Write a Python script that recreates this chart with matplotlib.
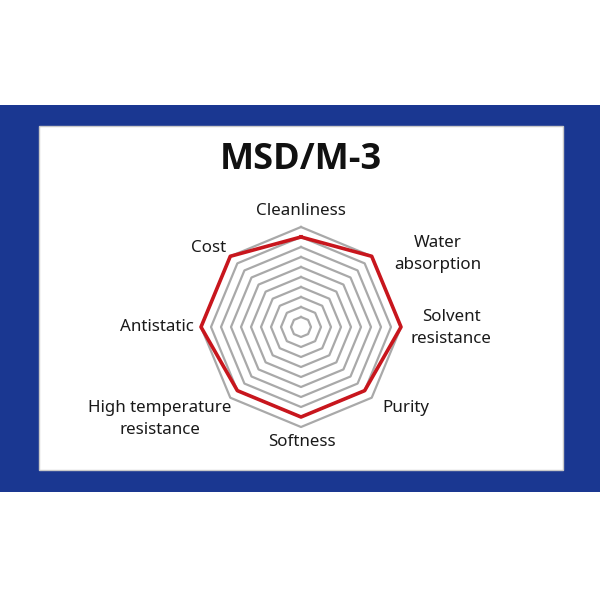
import numpy as np
import matplotlib
matplotlib.use("Agg")
import matplotlib.pyplot as plt
from matplotlib.patches import Rectangle

plt.rcParams['font.family'] = ['Noto Sans', 'DejaVu Sans']

title = "MSD/M-3"
categories = ["Cleanliness", "Water\nabsorption", "Solvent\nresistance", "Purity",
              "Softness", "High temperature\nresistance", "Antistatic", "Cost"]
values = [9, 10, 10, 9, 9, 9, 10, 10]
levels = list(range(1, 11))

# label pixel positions (layout)
label_pos = [(301, 211), (438, 254), (451, 328), (406, 408),
             (302, 442), (160, 419), (157, 327), (209, 248)]

W = H = 600
fig = plt.figure(figsize=(6, 6), dpi=100)
fig.patch.set_facecolor("white")

def px(x, y):
    return x / W, 1 - y / H

# blue band
fig.patches.append(Rectangle(px(0, 492), 1, (492 - 105) / H, transform=fig.transFigure,
                             facecolor="#1a3791", edgecolor="none", zorder=0))
# white box
fig.patches.append(Rectangle(px(39, 470), (563 - 39) / W, (470 - 126) / H, transform=fig.transFigure,
                             facecolor="white", edgecolor="#c9c9c9", linewidth=1.0, zorder=1))

cx, cy, R = 301, 327, 100
ax = fig.add_axes([(cx - R) / W, 1 - (cy + R) / H, 2 * R / W, 2 * R / H], projection="polar")
ax.set_zorder(5)
ax.set_theta_offset(np.pi / 2)
ax.set_theta_direction(-1)
ax.set_ylim(0, 10)
ax.set_facecolor("none")
ax.patch.set_alpha(0)
ax.grid(False)
ax.spines["polar"].set_visible(False)
ax.set_xticks([])
ax.set_yticks([])

n = len(categories)
theta = np.linspace(0, 2 * np.pi, n, endpoint=False)
theta_c = np.concatenate([theta, theta[:1]])

for lv in levels:
    ax.plot(theta_c, [lv] * (n + 1), color="#a9a9a9", linewidth=1.6, zorder=2, clip_on=False)

vals = values + values[:1]
ax.plot(theta_c, vals, color="#c8161d", linewidth=2.6, zorder=3, clip_on=False)

for lab, (x, y) in zip(categories, label_pos):
    t = fig.text(*px(x, y), lab, ha="center", va="center", fontsize=12.2,
                 color="#1a1a1a", linespacing=1.45)
    t.set_zorder(6)

tt = fig.text(*px(301, 160), title, ha="center", va="center", fontsize=26,
              fontweight="bold", color="#111111", family=["Open Sans", "DejaVu Sans"])
tt.set_zorder(6)

fig.savefig("out.png", dpi=100, facecolor="white")
